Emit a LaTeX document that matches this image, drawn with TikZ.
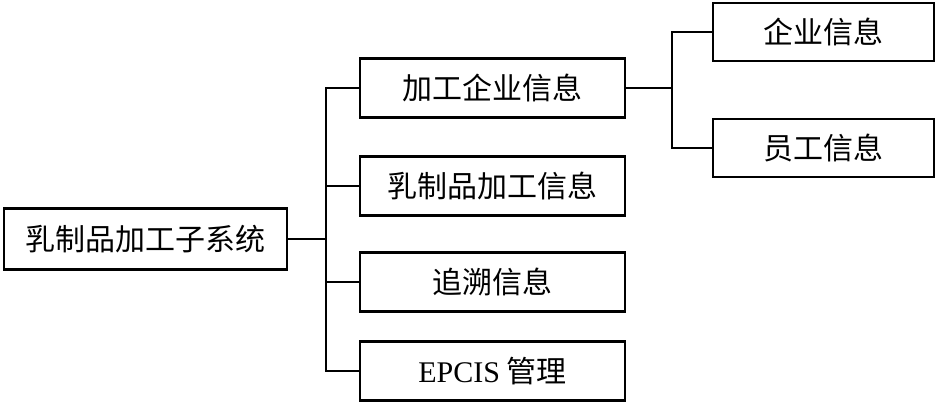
\documentclass[tikz,border=0pt]{standalone}
\usepackage{fontspec}
\setmainfont{Liberation Serif}
\newfontfamily\cjk{Noto Sans CJK SC}
\usepackage{tikz}

\begin{document}
\begin{tikzpicture}[x=1pt,y=-1pt,
        box/.style={draw, line width=2.8pt, inner sep=0pt, font=\fontsize{30}{30}\selectfont\cjk},
        link/.style={line width=1.7pt}]
        \useasboundingbox (0,0) rectangle (937,404);

        \node (root) at (145.5,239) [box, minimum width=283pt, minimum height=61pt] {乳制品加工子系统};

        \node (m1) at (492.5,88) [box, minimum width=265pt, minimum height=59pt] {加工企业信息};
        \node (m2) at (492.5,186) [box, minimum width=265pt, minimum height=59pt] {乳制品加工信息};
        \node (m3) at (492.5,282) [box, minimum width=265pt, minimum height=59pt] {追溯信息};
        \node (m4) at (492.5,371) [box, minimum width=265pt, minimum height=59pt] {{\rmfamily EPCIS} 管理};

        \node (r1) at (823.5,32) [box, minimum width=221pt, minimum height=58pt] {企业信息};
        \node (r2) at (823.5,148) [box, minimum width=221pt, minimum height=58pt] {员工信息};

        \coordinate (jL) at (326,239);
        \coordinate (jR) at (672,88);

        \draw[link] (root.east) -- (jL);
        \draw[link] (m1.west) -| (jL);
        \draw[link] (m2.west) -| (jL);
        \draw[link] (m3.west) -| (jL);
        \draw[link] (m4.west) -| (jL);

        \draw[link] (m1.east) -- (jR);
        \draw[link] (r1.west) -| (jR);
        \draw[link] (r2.west) -| (jR);
    \end{tikzpicture}
\end{document}
